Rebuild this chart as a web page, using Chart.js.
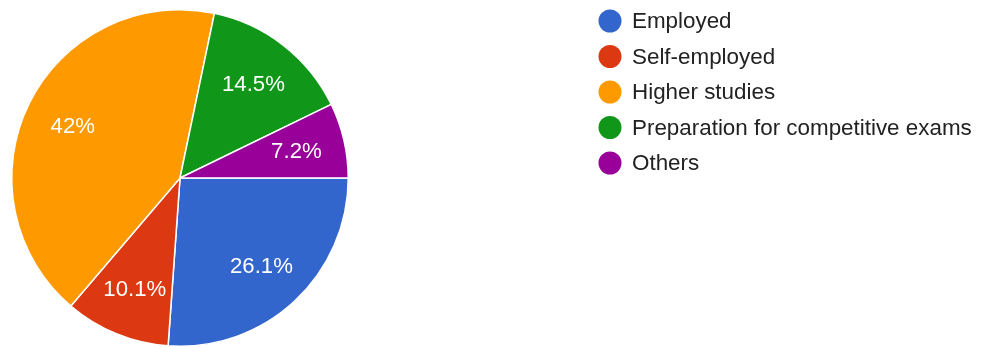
<!DOCTYPE html>
<html>
<head>
<meta charset="utf-8">
<script src="https://cdn.jsdelivr.net/npm/chart.js@4.4.1/dist/chart.umd.min.js"></script>
<style>
  html, body { margin: 0; padding: 0; background: #fff; }
  #wrap { position: relative; width: 991px; height: 347px; }
</style>
</head>
<body>
<div id="wrap"><canvas id="pie"></canvas></div>
<script>
// Survey responses: what graduates are doing now (percent)
const categories = ['Employed', 'Self-employed', 'Higher studies', 'Preparation for competitive exams', 'Others'];
const shares = [26.1, 10.1, 42, 14.5, 7.2];
const sliceColors = ['#3366cc', '#dc3912', '#ff9900', '#109618', '#990099'];

const FONT = '"Liberation Sans", Arial, sans-serif';

// percentage text inside each slice
const sliceLabels = {
  id: 'sliceLabels',
  afterDatasetsDraw(chart) {
    const ctx = chart.ctx;
    const meta = chart.getDatasetMeta(0);
    ctx.save();
    ctx.fillStyle = '#ffffff';
    ctx.font = '22.2px ' + FONT;
    ctx.textAlign = 'center';
    ctx.textBaseline = 'middle';
    meta.data.forEach((arc, i) => {
      const { x, y, startAngle, endAngle, outerRadius } = arc.getProps(['x', 'y', 'startAngle', 'endAngle', 'outerRadius'], true);
      const mid = (startAngle + endAngle) / 2;
      const r = outerRadius * 0.71;
      ctx.fillText(shares[i] + '%', x + Math.cos(mid) * r, y + Math.sin(mid) * r + 1);
    });
    ctx.restore();
  }
};

// legend on the right, built from the chart's own legend items
const sideLegend = {
  id: 'sideLegend',
  afterDraw(chart) {
    const ctx = chart.ctx;
    const items = chart.options.plugins.legend.labels.generateLabels(chart);
    ctx.save();
    ctx.font = '22.4px ' + FONT;
    ctx.textBaseline = 'middle';
    items.forEach((item, i) => {
      const cy = 21 + i * 35.5;
      ctx.beginPath();
      ctx.arc(610, cy, 11.5, 0, Math.PI * 2);
      ctx.fillStyle = item.fillStyle;
      ctx.fill();
      ctx.fillStyle = '#222222';
      ctx.fillText(item.text, 632, cy + 1);
    });
    ctx.restore();
  }
};

new Chart(document.getElementById('pie'), {
  type: 'pie',
  data: {
    labels: categories,
    datasets: [{
      data: shares,
      backgroundColor: sliceColors,
      borderColor: '#ffffff',
      borderWidth: 1.5
    }]
  },
  options: {
    responsive: true,
    maintainAspectRatio: false,
    animation: false,
    rotation: 90,
    layout: { padding: { left: 11, right: 642, top: 9, bottom: 0 } },
    plugins: {
      legend: { display: false },
      tooltip: { enabled: false }
    }
  },
  plugins: [sliceLabels, sideLegend]
});
</script>
</body>
</html>
